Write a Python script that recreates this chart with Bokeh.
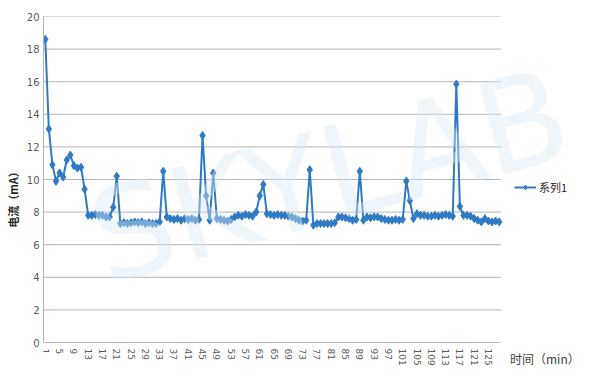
from bokeh.plotting import figure
from bokeh.models import Range1d, FixedTicker, Label, Legend, LegendItem
from bokeh.embed import file_html
from bokeh.resources import INLINE

minutes = list(range(1, 129))
current = [
    18.6, 13.1, 10.9, 9.9, 10.4, 10.15, 11.2, 11.5, 10.85, 10.7,
    10.75, 9.4, 7.8, 7.8, 7.85, 7.8, 7.8, 7.7, 7.7, 8.3,
    10.2, 7.3, 7.35, 7.3, 7.35, 7.4, 7.35, 7.4, 7.3, 7.35,
    7.3, 7.3, 7.4, 10.5, 7.7, 7.6, 7.55, 7.6, 7.5, 7.6,
    7.55, 7.6, 7.5, 7.55, 12.7, 9.0, 7.5, 10.4, 7.6, 7.55,
    7.5, 7.45, 7.55, 7.7, 7.8, 7.75, 7.85, 7.8, 7.75, 8.0,
    9.0, 9.7, 7.9, 7.85, 7.8, 7.85, 7.8, 7.8, 7.75, 7.7,
    7.6, 7.5, 7.45, 7.5, 10.6, 7.2, 7.3, 7.3, 7.3, 7.3,
    7.3, 7.35, 7.7, 7.7, 7.65, 7.6, 7.5, 7.55, 10.5, 7.5,
    7.7, 7.65, 7.7, 7.7, 7.6, 7.55, 7.5, 7.5, 7.55, 7.5,
    7.55, 9.9, 8.7, 7.6, 7.9, 7.8, 7.8, 7.75, 7.75, 7.8,
    7.75, 7.8, 7.85, 7.8, 7.75, 15.85, 8.35, 7.8, 7.8, 7.75,
    7.6, 7.5, 7.4, 7.6, 7.45, 7.4, 7.45, 7.4,
]
x_ticks = list(range(1, 129, 4))
y_ticks = list(range(0, 21, 2))
series_name = "系列1"
x_title = "时间（min）"
y_title = "电流（mA）"

COLOR = "#2F7AC4"
GRID = "#B4B4B4"
TICK = "#595959"

X_LO, X_HI = 0.5, 128.5          # data extent of the category axis
Y_LO, Y_HI = 0, 20
PX_X = 3.5742                    # px per category
PX_Y = 16.3                      # px per mA
FRAME_W = 591 - 43
FRAME_H = 377 - 16

p = figure(width=591, height=377, output_backend="svg", toolbar_location=None,
           x_range=Range1d(X_LO, X_LO + FRAME_W / PX_X),
           y_range=Range1d(Y_HI - FRAME_H / PX_Y, Y_HI),
           min_border_left=43, min_border_right=0, min_border_top=16, min_border_bottom=0)
p.outline_line_color = None
p.background_fill_color = "white"
p.border_fill_color = "white"

# horizontal gridlines at the y ticks, limited to the plotting area
p.xgrid.visible = False
p.ygrid.visible = False
grid_y = y_ticks[1:]
p.segment(x0=[X_LO] * len(grid_y), x1=[X_HI] * len(grid_y), y0=grid_y, y1=grid_y,
          line_color=GRID, line_width=1)

line_r = p.line(minutes, current, line_color=COLOR, line_width=2)
pts_r = p.scatter(minutes, current, marker="diamond", size=8, fill_color=COLOR,
                  line_color=COLOR)

wm = Label(x=80.5, y=10.2, text="SKYLAB", text_font="DejaVu Sans", text_font_size="128px",
           text_color="#D6E8F5", text_alpha=0.42, angle=0.27, text_align="center",
           text_baseline="middle", level="overlay")
p.add_layout(wm)

# x axis drawn at y = 0 inside the frame
p.xaxis.fixed_location = 0
p.xaxis.bounds = (X_LO, X_HI)
p.xaxis.ticker = FixedTicker(ticks=x_ticks)
p.xaxis.major_label_orientation = "vertical"
p.xaxis.major_label_text_font = "DejaVu Sans"
p.xaxis.major_label_text_font_size = "9px"
p.xaxis.major_label_text_color = TICK
p.xaxis.major_tick_line_color = None
p.xaxis.major_tick_out = 0
p.xaxis.minor_tick_line_color = None
p.xaxis.minor_tick_out = 0
p.xaxis.axis_line_color = GRID
p.xaxis.major_label_standoff = 6

p.yaxis.bounds = (Y_LO, Y_HI)
p.yaxis.ticker = FixedTicker(ticks=y_ticks)
p.yaxis.major_label_text_font = "DejaVu Sans"
p.yaxis.major_label_text_font_size = "10px"
p.yaxis.major_label_text_color = TICK
p.yaxis.major_tick_line_color = None
p.yaxis.major_tick_out = 0
p.yaxis.minor_tick_line_color = None
p.yaxis.minor_tick_out = 0
p.yaxis.axis_line_color = GRID
p.yaxis.major_label_standoff = 4
p.yaxis.axis_label = y_title
p.yaxis.axis_label_text_font = "Noto Sans CJK SC"
p.yaxis.axis_label_text_font_style = "bold"
p.yaxis.axis_label_text_font_size = "11px"
p.yaxis.axis_label_text_color = "#262626"
p.yaxis.axis_label_standoff = 3

legend = Legend(items=[LegendItem(label=series_name, renderers=[line_r, pts_r])],
                location=(471, 182), background_fill_alpha=0, border_line_color=None,
                label_text_font="Noto Sans CJK SC", label_text_font_size="11px",
                label_text_color="#262626", glyph_width=22, glyph_height=12,
                label_standoff=3, padding=2, margin=0)
p.add_layout(legend)

xl = Label(x=X_HI + (510 - 501) / PX_X, y=-16 / PX_Y, text=x_title,
           text_font="Noto Sans CJK SC", text_font_size="12px", text_color="#404040",
           text_baseline="middle")
p.add_layout(xl)

open("out.html", "w").write(file_html(p, INLINE))
